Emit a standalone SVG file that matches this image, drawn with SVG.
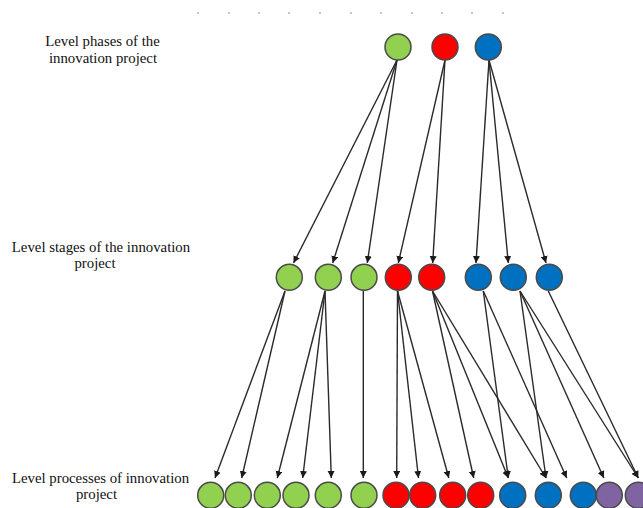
<svg xmlns="http://www.w3.org/2000/svg" width="643" height="508" viewBox="0 0 643 508">
<style>
.lbl{font-family:"Liberation Serif","Times New Roman",serif;font-size:14.8px;fill:#111111;text-anchor:middle}
.n{stroke:#4a4a4a;stroke-width:1.5}
.g{fill:#92D050}.r{fill:#FF0000}.b{fill:#0070C0}.p{fill:#8064A2}
.e{stroke:#2a2a2a;stroke-width:1.4;fill:none;marker-end:url(#ah)}
.dot{fill:#b5b5b5}
</style>
<defs>
<marker id="ah" markerUnits="userSpaceOnUse" markerWidth="8" markerHeight="8" refX="7" refY="3.5" orient="auto">
<path d="M0,0 L7,3.5 L0,7 z" fill="#1a1a1a"/>
</marker>
</defs>
<rect width="643" height="508" fill="#ffffff"/>
<g id="dots">
<circle class="dot" cx="198" cy="13" r="1"/><circle class="dot" cx="229" cy="13" r="1"/><circle class="dot" cx="259" cy="13" r="1"/><circle class="dot" cx="289" cy="13" r="1"/><circle class="dot" cx="320" cy="13" r="1"/><circle class="dot" cx="351" cy="13" r="1"/><circle class="dot" cx="381" cy="13" r="1"/><circle class="dot" cx="412" cy="13" r="1"/><circle class="dot" cx="442" cy="13" r="1"/><circle class="dot" cx="472" cy="13" r="1"/><circle class="dot" cx="503" cy="13" r="1"/>
</g>
<g id="labels">
<text class="lbl" x="102.5" y="46">Level phases of the</text>
<text class="lbl" x="103" y="63">innovation project</text>
<text class="lbl" x="101" y="252">Level stages of the innovation</text>
<text class="lbl" x="95" y="268">project</text>
<text class="lbl" x="100.5" y="483">Level processes of innovation</text>
<text class="lbl" x="96.5" y="499">project</text>
</g>
<g id="connectors">
<line class="e" x1="397" y1="60" x2="293.5" y2="263"/>
<line class="e" x1="397" y1="60" x2="332.7" y2="263"/>
<line class="e" x1="397" y1="60" x2="367.3" y2="263"/>
<line class="e" x1="445" y1="60" x2="398.3" y2="263"/>
<line class="e" x1="445" y1="60" x2="432.7" y2="263"/>
<line class="e" x1="489" y1="60" x2="476" y2="263"/>
<line class="e" x1="489" y1="60" x2="508.3" y2="263"/>
<line class="e" x1="489" y1="60" x2="546" y2="263"/>
<line class="e" x1="285" y1="291" x2="215" y2="478"/>
<line class="e" x1="285" y1="291" x2="241.7" y2="478"/>
<line class="e" x1="325" y1="291" x2="277.3" y2="478"/>
<line class="e" x1="325" y1="291" x2="302.7" y2="478"/>
<line class="e" x1="325" y1="291" x2="331.3" y2="478"/>
<line class="e" x1="363.3" y1="291" x2="363.3" y2="478"/>
<line class="e" x1="397.5" y1="291" x2="396.7" y2="478"/>
<line class="e" x1="397.5" y1="291" x2="418.5" y2="478"/>
<line class="e" x1="397.5" y1="291" x2="448.8" y2="478"/>
<line class="e" x1="432.5" y1="291" x2="473.7" y2="478"/>
<line class="e" x1="432.5" y1="291" x2="508.3" y2="478"/>
<line class="e" x1="432.5" y1="291" x2="546" y2="478"/>
<line class="e" x1="483.3" y1="291" x2="508.3" y2="478"/>
<line class="e" x1="483.3" y1="291" x2="566.7" y2="478"/>
<line class="e" x1="520" y1="291" x2="546" y2="478"/>
<line class="e" x1="520" y1="291" x2="603.8" y2="478"/>
<line class="e" x1="520" y1="291" x2="638.3" y2="478"/>
<line class="e" x1="548.3" y1="291" x2="638.3" y2="478"/>
</g>
<g id="phase-green"><circle class="n g" cx="398" cy="47" r="13"/></g>
<g id="phase-red"><circle class="n r" cx="445" cy="47" r="13"/></g>
<g id="phase-blue"><circle class="n b" cx="488.3" cy="47" r="13"/></g>
<g id="stage-g1"><circle class="n g" cx="289.3" cy="277.3" r="13"/></g>
<g id="stage-g2"><circle class="n g" cx="328.3" cy="277.3" r="13"/></g>
<g id="stage-g3"><circle class="n g" cx="364" cy="277.3" r="13"/></g>
<g id="stage-r1"><circle class="n r" cx="398.3" cy="277.3" r="13"/></g>
<g id="stage-r2"><circle class="n r" cx="431.7" cy="277.3" r="13"/></g>
<g id="stage-b1"><circle class="n b" cx="478.3" cy="277.3" r="13"/></g>
<g id="stage-b2"><circle class="n b" cx="513.3" cy="277.3" r="13"/></g>
<g id="stage-b3"><circle class="n b" cx="549.3" cy="277.3" r="13"/></g>
<g id="proc-1"><circle class="n g" cx="210.7" cy="495.3" r="13"/></g>
<g id="proc-2"><circle class="n g" cx="238.3" cy="495.3" r="13"/></g>
<g id="proc-3"><circle class="n g" cx="267.3" cy="495.3" r="13"/></g>
<g id="proc-4"><circle class="n g" cx="296" cy="495.3" r="13"/></g>
<g id="proc-5"><circle class="n g" cx="328.3" cy="495.3" r="13"/></g>
<g id="proc-6"><circle class="n g" cx="364" cy="495.3" r="13"/></g>
<g id="proc-7"><circle class="n r" cx="396" cy="495.3" r="13"/></g>
<g id="proc-8"><circle class="n r" cx="422.7" cy="495.3" r="13"/></g>
<g id="proc-9"><circle class="n r" cx="452.7" cy="495.3" r="13"/></g>
<g id="proc-10"><circle class="n r" cx="480.7" cy="495.3" r="13"/></g>
<g id="proc-11"><circle class="n b" cx="512.7" cy="495.3" r="13"/></g>
<g id="proc-12"><circle class="n b" cx="548.3" cy="495.3" r="13"/></g>
<g id="proc-13"><circle class="n b" cx="583.3" cy="495.3" r="13"/></g>
<g id="proc-14"><circle class="n p" cx="609.3" cy="495.3" r="13"/></g>
<g id="proc-15"><circle class="n p" cx="638.3" cy="495.3" r="13"/></g>
</svg>
